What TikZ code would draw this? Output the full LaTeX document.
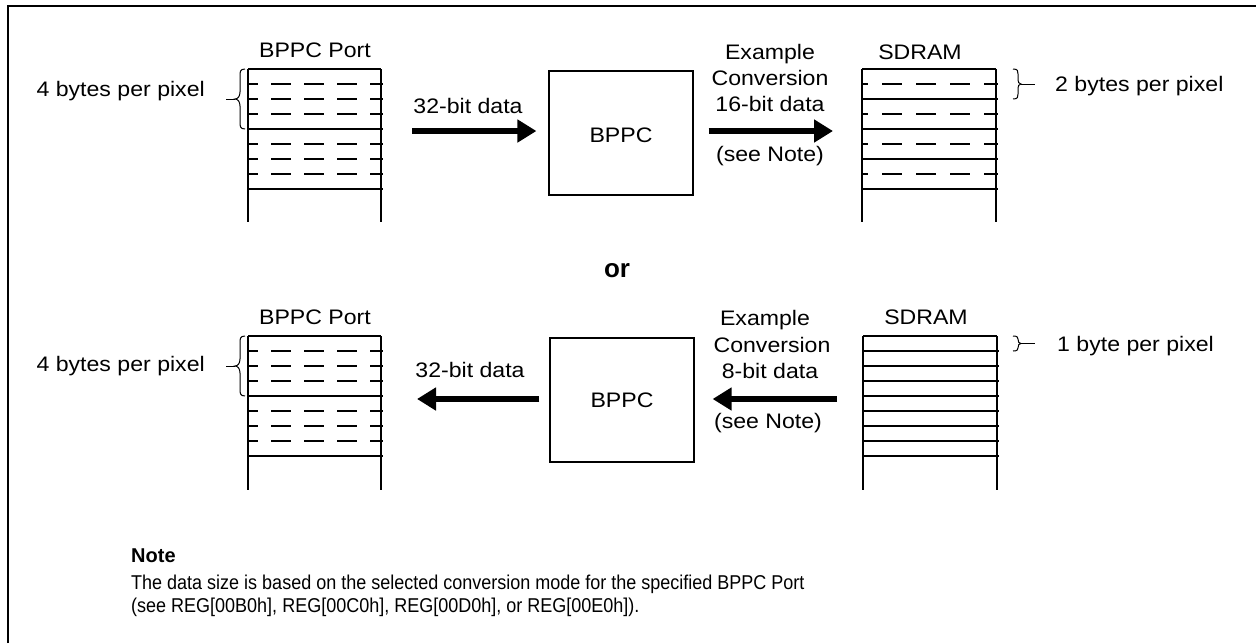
\documentclass[tikz,border=0pt]{standalone}
\usepackage{fontspec}
\setmainfont{Liberation Sans}
\newfontfamily\labfont{Liberation Sans}[FakeStretch=1.1]
\newfontfamily\notefont{Liberation Sans}[FakeStretch=0.9]
\usetikzlibrary{arrows.meta}
\tikzset{
  lab/.style={font=\labfont\fontsize{21}{25}\selectfont, inner sep=0pt, anchor=base},
  notetxt/.style={font=\notefont\fontsize{20}{23}\selectfont, inner sep=0pt, anchor=base west},
  thin/.style={line width=1.2pt},
  dsh/.style={line width=1.2pt, dash pattern=on 20pt off 13pt, dash phase=10pt},
  bigarrow/.style={line width=6pt, -{Triangle[length=19pt,width=22pt]}},
  box/.style={draw, line width=1.2pt, minimum width=144pt, minimum height=124pt, inner sep=0pt},
  brc/.style={line width=1pt}
}
\begin{document}
\begin{tikzpicture}[x=1pt,y=-1pt]
\useasboundingbox (0,0) rectangle (1256,643);
% frame
\draw[line width=2pt] (8,643) -- (8,6) -- (1256,6);

% ---------- top row ----------
\node[lab] (hp1) at (315,57) {BPPC Port};
\draw[thin] (248,69) -- (381,69) (248,69) -- (248,222) (381,69) -- (381,222);
\foreach \k in {1,2,3,5,6,7} \draw[dsh] (248,69+15*\k) -- (383,69+15*\k);
\foreach \k in {4,8} \draw[thin] (248,69+15*\k) -- (383,69+15*\k);
% left brace
\draw[brc] (245,69) .. controls (240,69) and (240,72) .. (240,76) -- (240,92)
  .. controls (240,96) and (238,99) .. (235,99)
  .. controls (238,99) and (240,102) .. (240,106) -- (240,122)
  .. controls (240,126) and (240,129) .. (245,129);
\draw[brc] (226,99) -- (235,99);
\node[lab, anchor=base east] (bpp1) at (205,96) {4 bytes per pixel};

\coordinate (a1s) at (412,131);
\node[box] (bppc1) at (621,133) {};
\node[lab, anchor=center] (bppct1) at (621,135) {BPPC};
\draw[bigarrow] (a1s) -- ([xshift=-12pt]bppc1.west |- a1s);
\node[lab] (d32a) at (468,113) {32-bit data};

\coordinate (a2e) at (833,131);
\draw[bigarrow] ([xshift=15pt]bppc1.east |- a2e) -- (a2e);
\node[lab] (ex1) at (770,59) {Example};
\node[lab] (cv1) at (770,85) {Conversion};
\node[lab] (d16) at (770,111) {16-bit data};
\node[lab] (sn1) at (770,161) {(see Note)};

\node[lab] (hs1) at (920,59) {SDRAM};
\draw[thin] (862,69) -- (996,69) (862,69) -- (862,222) (996,69) -- (996,222);
\foreach \k in {1,3,5,7} \draw[thin, dash pattern=on 20pt off 14pt, dash phase=14pt] (862,69+15*\k) -- (998,69+15*\k);
\foreach \k in {2,4,6,8} \draw[thin] (862,69+15*\k) -- (998,69+15*\k);
\draw[brc] (1013,69) .. controls (1018,69) and (1018,71) .. (1018,74) -- (1018,80)
  .. controls (1018,82) and (1019,84) .. (1021,84)
  .. controls (1019,84) and (1018,86) .. (1018,88) -- (1018,94)
  .. controls (1018,97) and (1018,99) .. (1013,99);
\draw[brc] (1021,84) -- (1035,84);
\node[lab, anchor=base west] (bpp2) at (1055,91) {2 bytes per pixel};

% ---------- or ----------
\node[font=\bfseries\fontsize{26}{30}\selectfont, inner sep=0pt, anchor=base] (or) at (617,277) {or};

% ---------- bottom row ----------
\node[lab] (hp2) at (315,324) {BPPC Port};
\draw[thin] (248,336) -- (381,336) (248,336) -- (248,490) (381,336) -- (381,490);
\foreach \k in {1,2,3,5,6,7} \draw[dsh] (248,336+15*\k) -- (383,336+15*\k);
\foreach \k in {4,8} \draw[thin] (248,336+15*\k) -- (383,336+15*\k);
\draw[brc] (245,336) .. controls (240,336) and (240,339) .. (240,343) -- (240,359)
  .. controls (240,363) and (238,366) .. (235,366)
  .. controls (238,366) and (240,369) .. (240,373) -- (240,389)
  .. controls (240,393) and (240,396) .. (245,396);
\draw[brc] (226,366) -- (235,366);
\node[lab, anchor=base east] (bpp3) at (205,371) {4 bytes per pixel};

\node[box] (bppc2) at (622,400) {};
\node[lab, anchor=center] (bppct2) at (622,400) {BPPC};
\coordinate (a3e) at (417,399);
\draw[bigarrow] ([xshift=-10pt]bppc2.west |- a3e) -- (a3e);
\node[lab] (d32b) at (470,377) {32-bit data};

\coordinate (a4s) at (837,399);
\draw[bigarrow] (a4s) -- ([xshift=18pt]bppc2.east |- a4s);
\node[lab] (ex2) at (765,325) {Example};
\node[lab] (cv2) at (772,352) {Conversion};
\node[lab] (d8) at (770,378) {8-bit data};
\node[lab] (sn2) at (768,428) {(see Note)};

\node[lab] (hs2) at (926,324) {SDRAM};
\draw[thin] (863,336) -- (997,336) (863,336) -- (863,490) (997,336) -- (997,490);
\foreach \k in {1,...,8} \draw[thin] (863,336+15*\k) -- (999,336+15*\k);
\draw[brc] (1013,336) .. controls (1017,336) and (1018,337) .. (1018,339)
  .. controls (1018,342) and (1019,343.5) .. (1021,343.5)
  .. controls (1019,343.5) and (1018,345) .. (1018,348)
  .. controls (1018,350) and (1017,351) .. (1013,351);
\draw[brc] (1021,343.5) -- (1035,343.5);
\node[lab, anchor=base west] (bpp4) at (1057,351) {1 byte per pixel};

% ---------- note ----------
\node[font=\bfseries\fontsize{20}{23}\selectfont, inner sep=0pt, anchor=base west] (nt) at (131,562) {Note};
\node[notetxt] (n1) at (131,589) {The data size is based on the selected conversion mode for the specified BPPC Port};
\node[notetxt] (n2) at (131,612) {(see REG[00B0h], REG[00C0h], REG[00D0h], or REG[00E0h]).};
\end{tikzpicture}
\end{document}
